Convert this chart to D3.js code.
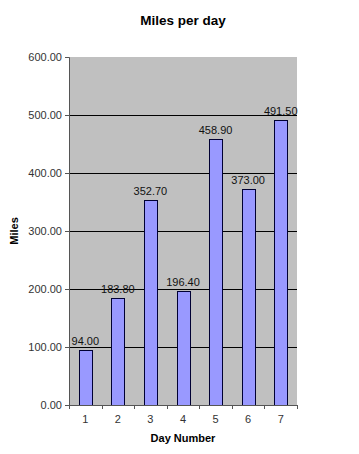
<!DOCTYPE html>
<html>
<head>
<meta charset="utf-8">
<script src="https://cdn.jsdelivr.net/npm/d3@7"></script>
<style>
  body { margin: 0; background: #fff; }
  svg { display: block; font-family: "Liberation Sans", Arial, sans-serif; }
</style>
</head>
<body>
<div class="container"></div>
<script>
const days = ['1', '2', '3', '4', '5', '6', '7']
const miles = [94.0, 183.8, 352.7, 196.4, 458.9, 373.0, 491.5]
const yTicks = [0, 100, 200, 300, 400, 500, 600]

const width = 359
const height = 454
const margin = { top: 57, right: 62, bottom: 49, left: 69 }

const svg = d3.select('.container')
  .append('svg')
  .attr('width', width)
  .attr('height', height)

const plotW = width - margin.left - margin.right
const plotH = height - margin.top - margin.bottom

const g = svg.append('g')
  .attr('transform', `translate(${margin.left},${margin.top})`)

const xBand = d3.scaleBand().domain(days).range([0, plotW])

const yScale = d3.scaleLinear()
  .domain([0, 600])
  .range([plotH, 0])

g.append('rect')
  .attr('width', plotW)
  .attr('height', plotH)
  .attr('fill', '#c0c0c0')

// gridlines
g.selectAll('.grid')
  .data(yTicks.slice(1, -1))
  .enter()
  .append('line')
  .attr('x1', 0)
  .attr('x2', plotW)
  .attr('y1', d => yScale(d) + 0.5)
  .attr('y2', d => yScale(d) + 0.5)
  .attr('stroke', '#000')
  .attr('stroke-width', 1)

g.selectAll('.bar')
  .data(miles)
  .enter()
  .append('rect')
  .attr('x', (d, i) => Math.round(xBand(days[i]) + xBand.bandwidth() / 2 - 6.5) + 0.5)
  .attr('y', d => Math.round(yScale(d)) + 0.5)
  .attr('width', 13)
  .attr('height', d => plotH - Math.round(yScale(d)))
  .attr('fill', '#9999ff')
  .attr('stroke', '#000033')
  .attr('stroke-width', 1)

g.selectAll('.lbl')
  .data(miles)
  .enter()
  .append('text')
  .attr('x', (d, i) => xBand(days[i]) + xBand.bandwidth() / 2)
  .attr('y', d => yScale(d) - 5)
  .attr('text-anchor', 'middle')
  .attr('font-size', '11px')
  .attr('fill', '#111')
  .text(d => d.toFixed(2))

// y axis
const yAxis = g.append('g')
  .call(d3.axisLeft(yScale).tickValues(yTicks).tickSize(4).tickFormat(d => d.toFixed(2)).tickPadding(3))
yAxis.select('.domain').attr('stroke', '#555')
yAxis.selectAll('.tick line').attr('stroke', '#555')
yAxis.selectAll('text').attr('font-size', '11px').attr('fill', '#333')
  .attr('font-family', '"Liberation Sans", Arial, sans-serif')

// x axis
const xAxis = g.append('g')
  .attr('transform', `translate(0,${plotH})`)
  .call(d3.axisBottom(xBand).tickSize(0).tickPadding(10))
xAxis.select('.domain').attr('stroke', '#555')
xAxis.selectAll('text').attr('font-size', '11px').attr('fill', '#333')
  .attr('font-family', '"Liberation Sans", Arial, sans-serif')

g.selectAll('.xtick')
  .data(days.concat(['end']))
  .enter()
  .append('line')
  .attr('x1', (d, i) => Math.round(i * xBand.step()) + 0.5)
  .attr('x2', (d, i) => Math.round(i * xBand.step()) + 0.5)
  .attr('y1', plotH)
  .attr('y2', plotH + 4)
  .attr('stroke', '#555')

svg.append('text')
  .attr('x', margin.left + plotW / 2)
  .attr('y', 25)
  .attr('text-anchor', 'middle')
  .attr('font-size', '13.5px')
  .attr('font-weight', 'bold')
  .text('Miles per day')

svg.append('text')
  .attr('x', margin.left + plotW / 2)
  .attr('y', 442)
  .attr('text-anchor', 'middle')
  .attr('font-size', '11px')
  .attr('font-weight', 'bold')
  .text('Day Number')

svg.append('text')
  .attr('transform', `translate(18, ${margin.top + plotH / 2}) rotate(-90)`)
  .attr('text-anchor', 'middle')
  .attr('font-size', '11px')
  .attr('font-weight', 'bold')
  .text('Miles')
</script>
</body>
</html>
